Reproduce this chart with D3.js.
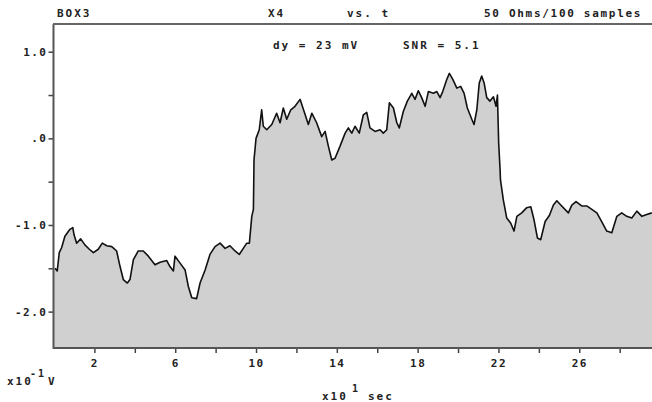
<!DOCTYPE html>
<html>
<head>
<meta charset="utf-8">
<script src="https://cdn.jsdelivr.net/npm/d3@7"></script>
<style>
  body { margin: 0; background: #fff; }
  text { font-family: "DejaVu Sans Mono", monospace; font-weight: bold; fill: #222; }
</style>
</head>
<body>
<div id="chart"></div>
<script>
// time in units of x10^1 sec, voltage in units of x10^-1 V
const times = [
  0.05, 0.16, 0.26, 0.38, 0.54, 0.79, 0.93, 0.99, 1.12, 1.32, 1.53, 1.75, 1.95, 2.19, 2.39, 2.61, 2.86,
  3.10, 3.27, 3.43, 3.63, 3.76, 3.93, 4.17, 4.42, 4.67, 5.00, 5.25, 5.58, 5.74, 5.91, 5.99, 6.24, 6.49,
  6.65, 6.82, 7.06, 7.23, 7.48, 7.72, 7.97, 8.22, 8.47, 8.71, 8.96, 9.17, 9.37, 9.54, 9.67, 9.79, 9.87,
  9.90, 10.00, 10.16, 10.28, 10.36, 10.53, 10.78, 11.02, 11.19, 11.35, 11.52, 11.72, 11.93, 12.18, 12.38,
  12.59, 12.76, 13.00, 13.25, 13.42, 13.58, 13.75, 13.91, 14.16, 14.41, 14.57, 14.74, 14.90, 15.11, 15.31,
  15.48, 15.64, 15.89, 16.14, 16.30, 16.47, 16.60, 16.80, 16.97, 17.09, 17.29, 17.49, 17.71, 17.87, 18.03,
  18.20, 18.37, 18.53, 18.78, 18.95, 19.11, 19.24, 19.44, 19.57, 19.74, 19.94, 20.13, 20.30, 20.46, 20.68,
  20.79, 20.93, 21.05, 21.17, 21.29, 21.42, 21.58, 21.75, 21.88, 21.95, 22.01, 22.08, 22.10, 22.24, 22.41,
  22.61, 22.77, 22.91, 23.15, 23.40, 23.60, 23.76, 23.93, 24.09, 24.31, 24.52, 24.72, 24.89, 25.13, 25.46,
  25.63, 25.84, 26.12, 26.37, 26.62, 26.87, 27.11, 27.36, 27.61, 27.86, 28.10, 28.35, 28.60, 28.85, 29.10,
  29.34, 29.59
]
const volts = [
  -1.50, -1.53, -1.32, -1.26, -1.13, -1.05, -1.03, -1.11, -1.21, -1.16, -1.23, -1.28, -1.32, -1.28, -1.21, -1.24, -1.25,
  -1.30, -1.48, -1.63, -1.67, -1.63, -1.40, -1.30, -1.30, -1.36, -1.46, -1.43, -1.41, -1.48, -1.53, -1.36, -1.44, -1.52,
  -1.71, -1.84, -1.85, -1.67, -1.52, -1.34, -1.25, -1.21, -1.27, -1.24, -1.30, -1.34, -1.27, -1.21, -1.21, -0.90, -0.82,
  -0.25, 0.00, 0.10, 0.33, 0.14, 0.10, 0.16, 0.29, 0.18, 0.35, 0.22, 0.33, 0.37, 0.45, 0.31,
  0.16, 0.29, 0.18, 0.02, 0.08, -0.09, -0.25, -0.23, -0.09, 0.06, 0.12, 0.06, 0.14, 0.06, 0.27,
  0.30, 0.12, 0.08, 0.10, 0.06, 0.10, 0.41, 0.35, 0.18, 0.12, 0.31, 0.43, 0.52, 0.45, 0.55,
  0.47, 0.37, 0.54, 0.52, 0.54, 0.47, 0.54, 0.68, 0.75, 0.68, 0.58, 0.60, 0.52, 0.35, 0.22,
  0.16, 0.33, 0.64, 0.72, 0.64, 0.47, 0.43, 0.48, 0.37, 0.50, -0.05, -0.36, -0.48, -0.71, -0.92,
  -0.98, -1.07, -0.90, -0.86, -0.80, -0.79, -0.94, -1.15, -1.17, -0.96, -0.89, -0.77, -0.72, -0.78, -0.86,
  -0.77, -0.73, -0.78, -0.78, -0.82, -0.86, -0.96, -1.07, -1.09, -0.90, -0.86, -0.90, -0.92, -0.84, -0.90,
  -0.88, -0.86
]
const yTicks = [1.0, 0.5, 0.0, -0.5, -1.0, -1.5, -2.0]
const yTickLabels = {'1': '1.0', '0': '.0', '-1': '-1.0', '-2': '-2.0'}
const xTicks = [2, 4, 6, 8, 10, 12, 14, 16, 18, 20, 22, 24, 26, 28]
const xTickLabels = [2, 6, 10, 14, 18, 22, 26]

const width = 652
const height = 402
const margin = {top: 24, right: 0, bottom: 54, left: 53}

const data = times.map((t, i) => ({t: t, v: volts[i]}))

const xScale = d3.scaleLinear()
  .domain([0, 29.6])
  .range([margin.left + 1, width])
const yScale = d3.scaleLinear()
  .domain([-2.42, 1.32])
  .range([height - margin.bottom, margin.top])

const svg = d3.select('#chart').append('svg')
  .attr('width', width)
  .attr('height', height)

const bottom = height - margin.bottom

// shaded area under the trace
const area = d3.area()
  .x(d => xScale(d.t))
  .y0(bottom)
  .y1(d => yScale(d.v))
svg.append('path')
  .datum([{t: 0, v: volts[0]}, ...data, {t: 29.6, v: volts[volts.length - 1]}])
  .attr('d', area)
  .attr('fill', '#d0d0d0')

const line = d3.line()
  .x(d => xScale(d.t))
  .y(d => yScale(d.v))
svg.append('path')
  .datum(data)
  .attr('d', line)
  .attr('fill', 'none')
  .attr('stroke', '#111')
  .attr('stroke-width', 1.6)
  .attr('stroke-linejoin', 'round')

// axes
const yAxis = d3.axisLeft(yScale)
  .tickValues(yTicks)
  .tickSize(5)
  .tickPadding(1)
  .tickFormat(d => yTickLabels[String(d)] || '')
const gy = svg.append('g')
  .attr('transform', `translate(${margin.left + 0.5}, 0)`)
  .call(yAxis)
gy.select('.domain').remove()
gy.append('line')
  .attr('y1', margin.top).attr('y2', bottom + 1)
  .attr('stroke', '#555').attr('stroke-width', 2)

const xAxis = d3.axisBottom(xScale)
  .tickValues(xTicks)
  .tickSize(5)
  .tickPadding(6)
  .tickFormat(d => xTickLabels.includes(d) ? d : '')
const gx = svg.append('g')
  .attr('transform', `translate(0, ${bottom})`)
  .call(xAxis)
gx.select('.domain').remove()
gx.append('line')
  .attr('x1', margin.left).attr('x2', width)
  .attr('stroke', '#555').attr('stroke-width', 2)

svg.selectAll('.tick line').attr('stroke', '#444').attr('stroke-width', 1.5)
svg.selectAll('.tick text')
  .style('font-family', '"DejaVu Sans Mono", monospace')
  .style('font-weight', 'bold')
  .style('font-size', '11px')
  .style('letter-spacing', '1.5px')
  .attr('fill', '#222')

// top rule
svg.append('line')
  .attr('x1', margin.left).attr('x2', width)
  .attr('y1', margin.top).attr('y2', margin.top)
  .attr('stroke', '#666').attr('stroke-width', 2)

// header texts
const label = (x, y, s, size, spacing) => svg.append('text')
  .attr('x', x).attr('y', y)
  .style('font-size', (size || 11) + 'px')
  .style('letter-spacing', (spacing || 2) + 'px')
  .text(s)

label(57, 17, 'BOX3')
label(268, 17, 'X4')
label(347, 17, 'vs. t')
label(484, 17, '50 Ohms/100 samples', 11, 1.7)
label(273, 49, 'dy = 23 mV')
label(403, 49, 'SNR = 5.1')

// unit labels
label(7, 385, 'x10')
label(30, 377, '-1', 10)
label(48, 385, 'V')
label(322, 400, 'x10')
label(352, 392, '1', 10)
label(368, 400, 'sec')
</script>
</body>
</html>
